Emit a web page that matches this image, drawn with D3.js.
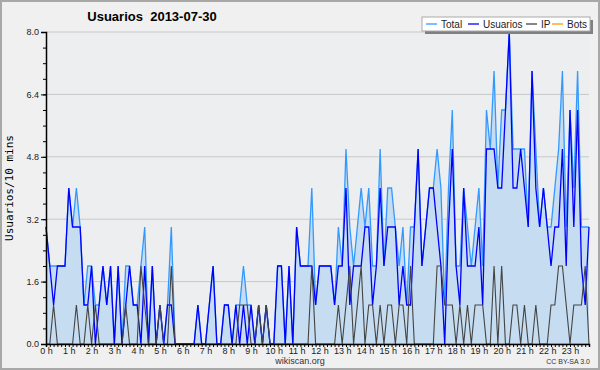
<!DOCTYPE html>
<html>
<head>
<meta charset="utf-8">
<script src="https://cdn.jsdelivr.net/npm/d3@7"></script>
<style>
  body { margin: 0; background: #fff; }
  svg text { font-family: "Liberation Sans", Arial, sans-serif; }
</style>
</head>
<body>
<div id="chart"></div>
<script>
// one value every 10 minutes, 144 slots for the day
const hourLabels = d3.range(0, 24).map(h => h + ' h');
const yTicks = [0, 1.6, 3.2, 4.8, 6.4, 8.0];

const total = [3,2,2,2,2,2,4,3,4,3, 1,2,2,1,1,2,1,2,0,2,
               0,2,2,1,1,2,3,0,2,0, 1,0,1,3,0,0,0,0,0,0,
               1,0,0,1,2,0,0,1,1,0, 1,1,2,1,1,0,1,0,1,0,
               0,2,2,0,2,0,3,2,2,2, 4,1,2,2,2,2,1,3,2,5,
               3,2,3,4,3,4,2,2,5,2, 4,4,3,2,3,1,3,3,5,2,
               3,4,4,5,4,1,4,6,2,2, 4,3,2,3,4,2,6,5,7,4,
               6,6,8,5,5,5,5,3,7,5, 3,4,3,3,4,5,7,3,6,4,
               7,3,3,3];
const usuarios = [3,2,1,2,2,2,4,3,3,3, 1,1,2,0,1,2,1,2,0,2,
                  0,1,2,1,1,0,2,0,2,0, 1,0,1,1,0,0,0,0,0,0,
                  1,0,0,1,2,0,0,1,1,0, 1,0,1,0,1,0,1,0,1,0,
                  0,2,2,0,2,0,3,2,2,2, 2,1,2,2,2,2,1,2,2,4,
                  1,2,2,2,3,3,1,2,4,2, 3,3,3,1,2,1,1,3,5,2,
                  3,4,4,3,2,0,3,5,2,1, 4,2,2,2,3,1,5,5,5,4,
                  4,6,8,4,4,5,4,3,7,4, 3,4,3,2,3,3,5,2,6,3,
                  6,2,1,3];
const ip = [0,0,1,0,0,0,0,0,1,0, 0,1,0,1,0,0,0,0,0,0,
            0,1,0,0,0,2,1,0,0,0, 1,0,0,2,0,0,0,0,0,0,
            0,0,0,0,0,0,0,0,0,0, 0,1,1,1,0,0,1,0,1,0,
            0,0,0,0,0,0,0,0,0,0, 2,0,0,0,0,0,0,1,0,1,
            2,0,1,2,0,1,1,0,1,0, 1,1,0,1,1,0,2,0,0,0,
            0,0,0,2,2,1,1,1,0,1, 0,1,0,1,1,1,0,0,2,0,
            2,0,0,1,1,0,1,0,0,1, 0,0,0,1,1,2,2,1,0,1,
            1,1,2,0];
const bots = d3.range(144).map(() => 0);

const legendNames = ['Total', 'Usuarios', 'IP', 'Bots'];
const colors = { Total: '#3399ff', Usuarios: '#0000ff', IP: '#444444', Bots: '#ff9900' };

const W = 600, H = 370;
const m = { left: 46, right: 11, top: 32, bottom: 26 };

const svg = d3.select('#chart').append('svg')
    .attr('width', W).attr('height', H);

// frame
svg.append('rect')
    .attr('x', 1).attr('y', 1).attr('width', W - 2).attr('height', H - 2)
    .attr('fill', '#f0f0f0').attr('stroke', '#a8a8a8').attr('stroke-width', 2);

const x = d3.scaleLinear().domain([0, 143]).range([m.left, W - m.right]);
const y = d3.scaleLinear().domain([0, 8]).range([H - m.bottom, m.top]);

svg.append('rect')
    .attr('x', m.left).attr('y', m.top)
    .attr('width', W - m.left - m.right).attr('height', H - m.top - m.bottom)
    .attr('fill', '#eceef0');

// grid
svg.append('g').selectAll('line')
    .data(yTicks.slice(1))
    .join('line')
    .attr('x1', m.left).attr('x2', W - m.right)
    .attr('y1', d => y(d)).attr('y2', d => y(d))
    .attr('stroke', '#c8c8c8').attr('stroke-width', 1);

// series
const area = d3.area()
    .x((d, i) => x(i))
    .y0(y(0))
    .y1(d => y(d));
const line = d3.line()
    .x((d, i) => x(i))
    .y(d => y(d));

svg.append('path').datum(total)
    .attr('d', area).attr('fill', '#c6dcf0');

const series = [['Total', total, 1.3], ['Bots', bots, 1], ['Usuarios', usuarios, 1.3], ['IP', ip, 1.1]];
series.forEach(s => {
    svg.append('path').datum(s[1])
        .attr('d', line)
        .attr('fill', 'none')
        .attr('stroke', colors[s[0]])
        .attr('stroke-width', s[2])
        .attr('stroke-linejoin', 'miter');
});

// axes
const yAxis = svg.append('g')
    .attr('transform', 'translate(' + m.left + ',0)')
    .call(d3.axisLeft(y).tickValues(yTicks).tickFormat(d3.format('.1f')).tickSize(5).tickPadding(2));
svg.append('g')
    .attr('transform', 'translate(' + m.left + ',0)')
    .call(d3.axisLeft(y).tickValues(d3.range(0, 8.01, 0.4)).tickFormat('').tickSize(3))
    .select('.domain').remove();
yAxis.selectAll('text').attr('font-size', 9).attr('fill', '#222');

const xAxis = svg.append('g')
    .attr('transform', 'translate(0,' + y(0) + ')')
    .call(d3.axisBottom(x).tickValues(d3.range(0, 144))
        .tickFormat(i => i % 6 === 0 ? hourLabels[i / 6] : '')
        .tickSize(3).tickPadding(1));
xAxis.selectAll('text').attr('font-size', 9).attr('fill', '#222');
svg.selectAll('.domain').attr('stroke', '#000').attr('stroke-width', 1.5);
svg.selectAll('.tick line').attr('stroke', '#000');

// titles
svg.append('text')
    .attr('x', 152).attr('y', 21)
    .attr('text-anchor', 'middle')
    .attr('font-size', 13).attr('font-weight', 'bold')
    .style('white-space', 'pre')
    .text('Usuarios  2013-07-30');

svg.append('text')
    .attr('transform', 'translate(13,' + ((m.top + H - m.bottom) / 2) + ') rotate(-90)')
    .attr('text-anchor', 'middle')
    .style('font-family', '"DejaVu Sans Mono", monospace')
    .attr('font-size', 11)
    .text('Usuarios/10 mins');

svg.append('text')
    .attr('x', 300).attr('y', 364)
    .attr('text-anchor', 'middle')
    .attr('font-size', 9).attr('fill', '#333')
    .text('wikiscan.org');

svg.append('text')
    .attr('x', 590).attr('y', 364)
    .attr('text-anchor', 'end')
    .attr('font-size', 7).attr('fill', '#333')
    .text('CC BY-SA 3.0');

// legend
const lg = svg.append('g').attr('transform', 'translate(422,17)');
lg.append('rect').attr('x', 3).attr('y', 3).attr('width', 168).attr('height', 14).attr('fill', '#808080');
lg.append('rect').attr('x', 0).attr('y', 0).attr('width', 168).attr('height', 14)
    .attr('fill', '#fff').attr('stroke', '#aaa');
const legendX = [4, 46, 104, 130];
legendNames.forEach((name, i) => {
    lg.append('line')
        .attr('x1', legendX[i]).attr('x2', legendX[i] + 11)
        .attr('y1', 7).attr('y2', 7)
        .attr('stroke', colors[name]).attr('stroke-width', 1.3);
    lg.append('text')
        .attr('x', legendX[i] + 15).attr('y', 11)
        .attr('font-size', 10).attr('fill', '#222')
        .text(name);
});
</script>
</body>
</html>
